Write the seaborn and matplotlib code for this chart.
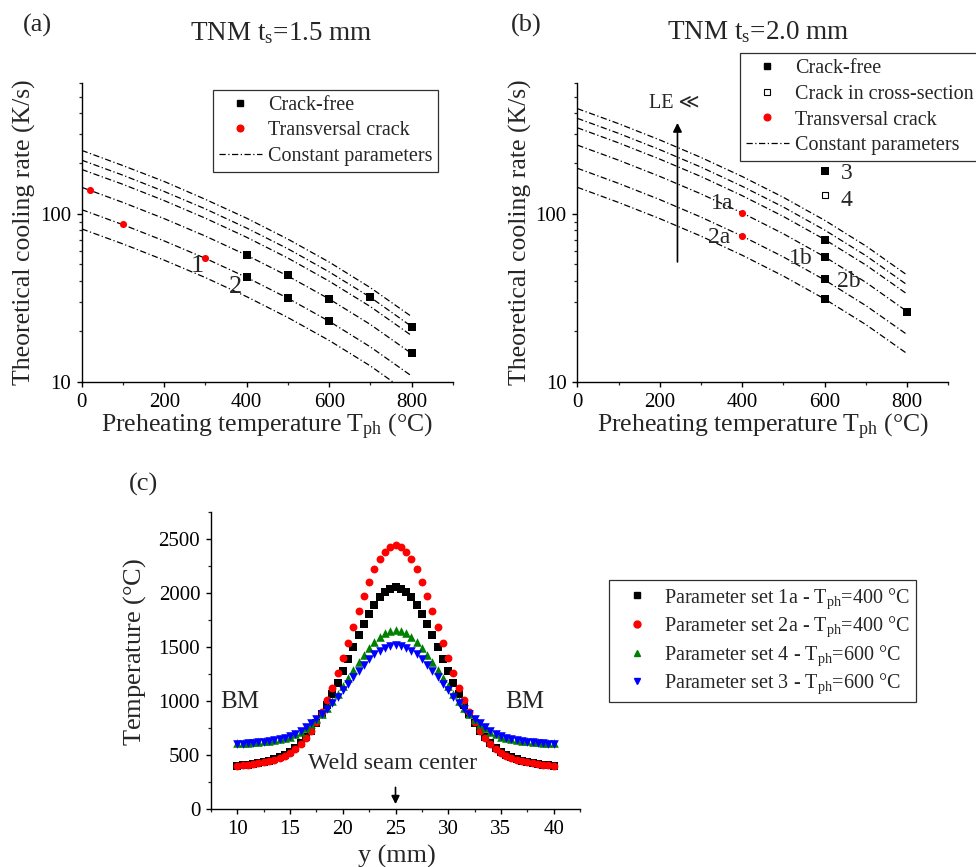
import matplotlib
matplotlib.use("Agg")
import numpy as np
import pandas as pd
import matplotlib.pyplot as plt
from matplotlib.ticker import FixedLocator, LogLocator, NullFormatter, FuncFormatter, MultipleLocator
from matplotlib.lines import Line2D
import seaborn as sns

sns.set_theme(style="ticks")
plt.rcParams["font.family"] = ["Liberation Serif", "DejaVu Serif", "DejaVu Sans"]
plt.rcParams["mathtext.fontset"] = "custom"
plt.rcParams["mathtext.rm"] = "Liberation Serif"
plt.rcParams["mathtext.it"] = "Liberation Serif:italic"
plt.rcParams["mathtext.bf"] = "Liberation Serif:bold"
plt.rcParams["axes.linewidth"] = 1.0

# ---------------- data ----------------
# preheating temperatures at which the constant-parameter curves are tabulated (°C)
t_ph = [0, 100, 200, 300, 400, 500, 600, 700, 800]

# (a) TNM, t_s = 1.5 mm : theoretical cooling rate for constant parameters (K/s)
curves_a = [
    [239, 194, 156, 122, 94.2, 70.7, 51.6, 36.3, 24.4],
    [209, 170, 136, 107, 82.3, 61.9, 45.1, 31.8, 21.3],
    [184, 150, 120, 94.2, 72.5, 54.5, 39.7, 28.0, 18.8],
    [144, 117, 93.7, 73.7, 56.7, 42.6, 31.1, 21.9, 14.7],
    [106, 86.2, 69.0, 54.3, 41.8, 31.4, 22.9, 16.1, 10.8],
    [81.4, 66.2, 53.0, 41.7, 32.1, 24.1, 17.6, 12.4, 8.3],
]
crackfree_a_t = [400, 400, 500, 500, 600, 600, 700, 800, 800]
crackfree_a_rate = [57.1, 41.8, 43.2, 31.5, 31.2, 23.1, 31.8, 21.1, 14.8]
transversal_a_t = [20, 100, 300]
transversal_a_rate = [139, 87, 54.6]

# (b) TNM, t_s = 2.0 mm
curves_b = [
    [424, 345, 276, 217, 167, 125.5, 91.6, 64.4, 43.2],
    [371, 302, 241.5, 190, 146, 109.8, 80.1, 56.4, 37.8],
    [326, 265, 212, 167, 128.4, 96.5, 70.4, 49.6, 33.3],
    [257, 209, 167.3, 131.6, 101.3, 76.1, 55.5, 39.1, 26.2],
    [187, 152, 121.7, 95.7, 73.7, 55.4, 40.4, 28.4, 19.1],
    [144, 117, 93.7, 73.7, 56.7, 42.6, 31.1, 21.9, 14.7],
]
crackfree_b_t = [600, 600, 600, 600, 800]
crackfree_b_rate = [70.2, 55.3, 40.9, 31.2, 26.2]
transversal_b_t = [400, 400]
transversal_b_rate = [101.4, 74.2]
set3_marker = (600, 181)
set4_marker = (600, 129)

# (c) temperature profiles across the weld (y in mm, T in °C)
y_pos = [10.0, 10.5, 11.0, 11.5, 12.0, 12.5, 13.0, 13.5, 14.0, 14.5,
         15.0, 15.5, 16.0, 16.5, 17.0, 17.5, 18.0, 18.5, 19.0, 19.5,
         20.0, 20.5, 21.0, 21.5, 22.0, 22.5, 23.0, 23.5, 24.0, 24.5,
         25.0, 25.5, 26.0, 26.5, 27.0, 27.5, 28.0, 28.5, 29.0, 29.5,
         30.0, 30.5, 31.0, 31.5, 32.0, 32.5, 33.0, 33.5, 34.0, 34.5,
         35.0, 35.5, 36.0, 36.5, 37.0, 37.5, 38.0, 38.5, 39.0, 39.5, 40.0]
temp_1a = [404, 407, 412, 418, 426, 436, 448, 462, 480, 503,
           532, 569, 613, 666, 728, 799, 879, 968, 1065, 1169,
           1278, 1390, 1502, 1611, 1715, 1809, 1891, 1959, 2009, 2040,
           2050, 2040, 2009, 1959, 1891, 1809, 1715, 1611, 1502, 1390,
           1278, 1169, 1065, 968, 879, 799, 728, 666, 613, 569,
           532, 503, 480, 462, 448, 436, 426, 418, 412, 407, 404]
temp_2a = [402, 405, 410, 417, 425, 435, 446, 460, 476, 495,
           520, 555, 600, 656, 724, 805, 899, 1006, 1125, 1255,
           1395, 1540, 1688, 1835, 1975, 2105, 2218, 2312, 2382, 2425,
           2440, 2425, 2382, 2312, 2218, 2105, 1975, 1835, 1688, 1540,
           1395, 1255, 1125, 1006, 899, 805, 724, 656, 600, 555,
           520, 495, 476, 460, 446, 435, 425, 417, 410, 405, 402]
temp_4 = [610, 612, 615, 618, 622, 627, 633, 640, 648, 658,
          671, 692, 718, 750, 787, 831, 881, 937, 999, 1066,
          1137, 1210, 1285, 1358, 1427, 1491, 1547, 1593, 1627, 1648,
          1655, 1648, 1627, 1593, 1547, 1491, 1427, 1358, 1285, 1210,
          1137, 1066, 999, 937, 881, 831, 787, 750, 718, 692,
          671, 658, 648, 640, 633, 627, 622, 618, 615, 612, 610]
temp_3 = [606, 608, 611, 614, 618, 623, 629, 637, 646, 658,
          676, 698, 725, 758, 796, 837, 882, 931, 985, 1042,
          1102, 1162, 1223, 1282, 1337, 1387, 1431, 1467, 1493, 1510,
          1515, 1510, 1493, 1467, 1431, 1387, 1337, 1282, 1223, 1162,
          1102, 1042, 985, 931, 882, 837, 796, 758, 725, 698,
          676, 658, 646, 637, 629, 623, 618, 614, 611, 608, 606]

# ---------------- styling helpers ----------------
W, H = 976, 867
DASHDOT = (0, (5, 2, 1, 2))
TICK_FS = 15
LABEL_FS = 18.5
LEG_FS = 14.5
SERIF = ["Liberation Serif", "DejaVu Sans"]


def fx(px):
    return px / W


def fy(py):
    return 1 - py / H


fig = plt.figure(figsize=(W / 100, H / 100), dpi=100)
ax_a = fig.add_axes([fx(81.7), fy(381.7), fx(453 - 81.7), (381.7 - 83.3) / H])
ax_b = fig.add_axes([fx(577.3), fy(381.7), fx(948.3 - 577.3), (381.7 - 83.3) / H])
ax_c = fig.add_axes([fx(211), fy(809.3), fx(580 - 211), (809.3 - 511.7) / H])


def style_axes(ax):
    sns.despine(ax=ax)
    ax.tick_params(which="major", direction="out", length=3.8, width=1.0,
                   labelsize=TICK_FS, pad=4, colors="black")
    ax.tick_params(which="minor", direction="out", length=2.2, width=0.9)
    for s in ("left", "bottom"):
        ax.spines[s].set_color("black")


def rate_axes(ax):
    ax.set_yscale("log")
    ax.set_xlim(0, 900)
    ax.set_ylim(10, 600)
    ax.xaxis.set_major_locator(FixedLocator([0, 200, 400, 600, 800]))
    ax.xaxis.set_minor_locator(FixedLocator([100, 300, 500, 700, 900]))
    ax.yaxis.set_major_locator(FixedLocator([10, 100]))
    ax.yaxis.set_major_formatter(FuncFormatter(lambda v, p: f"{v:g}"))
    ax.yaxis.set_minor_locator(LogLocator(base=10, subs=np.arange(2, 10)))
    ax.yaxis.set_minor_formatter(NullFormatter())
    style_axes(ax)
    ax.set_xlabel(r"Preheating temperature T$_{\mathrm{ph}}$ ($\degree$C)", fontsize=LABEL_FS)
    ax.set_ylabel("Theoretical cooling rate (K/s)", fontsize=LABEL_FS)
    ax.xaxis.set_label_coords(0.5, -0.102)
    ax.yaxis.set_label_coords(-0.122, 0.5)


def draw_curves(ax, curves):
    for c in curves:
        sns.lineplot(x=t_ph, y=c, ax=ax, color="black", lw=0.9,
                     linestyle=DASHDOT, estimator=None, sort=False, legend=False)


def legend_line():
    return Line2D([], [], color="black", lw=0.9, linestyle=DASHDOT)


leg_kw = dict(fontsize=LEG_FS, frameon=True, fancybox=False, shadow=False,
              framealpha=1, edgecolor="#303030", borderpad=0.28, handlelength=2.15,
              handletextpad=0.3, labelspacing=0.33, borderaxespad=0,
              loc="upper left")

# ---------------- (a) ----------------
rate_axes(ax_a)
draw_curves(ax_a, curves_a)
sns.scatterplot(x=crackfree_a_t, y=crackfree_a_rate, ax=ax_a, marker="s",
                color="black", s=36, linewidth=0, zorder=3, legend=False)
sns.scatterplot(x=transversal_a_t, y=transversal_a_rate, ax=ax_a, marker="o",
                color="red", s=26, linewidth=0, zorder=3, legend=False)
ax_a.text(279, 49.2, "1", fontsize=19, ha="center", va="center")
ax_a.text(374, 36.6, "2", fontsize=19, ha="center", va="center")
h_a = [Line2D([], [], ls="none", marker="s", color="black", markersize=4.8),
       Line2D([], [], ls="none", marker="o", color="red", markersize=4.8),
       legend_line()]
lg = ax_a.legend(h_a, ["Crack-free", "Transversal crack", "Constant parameters"],
                 bbox_to_anchor=(fx(213), fy(90)), bbox_transform=fig.transFigure, **leg_kw)
lg.get_frame().set_linewidth(0.9)

# ---------------- (b) ----------------
rate_axes(ax_b)
draw_curves(ax_b, curves_b)
sns.scatterplot(x=crackfree_b_t, y=crackfree_b_rate, ax=ax_b, marker="s",
                color="black", s=36, linewidth=0, zorder=3, legend=False)
sns.scatterplot(x=transversal_b_t, y=transversal_b_rate, ax=ax_b, marker="o",
                color="red", s=26, linewidth=0, zorder=3, legend=False)
sns.scatterplot(x=[set3_marker[0]], y=[set3_marker[1]], ax=ax_b, marker="s",
                color="black", s=26, linewidth=0, zorder=3, legend=False)
sns.scatterplot(x=[set4_marker[0]], y=[set4_marker[1]], ax=ax_b, marker="s",
                color="white", edgecolor="black", s=22, linewidth=0.8, zorder=3, legend=False)
for txt, xx, yy in [("1a", 351, 115.6), ("2a", 345, 72.7), ("1b", 543, 54.3),
                    ("2b", 658, 39.6), ("3", 653, 173.6), ("4", 652, 119.6)]:
    ax_b.text(xx, yy, txt, fontsize=17, ha="center", va="center")
ax_b.annotate("", xy=(243, 362), xytext=(243, 49.8),
              arrowprops=dict(arrowstyle="-|>", color="black", lw=1.2, mutation_scale=13))
ax_b.text(235, 456, "LE \u226a", fontsize=14.5, ha="center", va="center", family=SERIF)
h_b = [Line2D([], [], ls="none", marker="s", color="black", markersize=4.8),
       Line2D([], [], ls="none", marker="s", markerfacecolor="white",
              markeredgecolor="black", markeredgewidth=0.8, markersize=4.5),
       Line2D([], [], ls="none", marker="o", color="red", markersize=4.8),
       legend_line()]
lg = ax_b.legend(h_b, ["Crack-free", "Crack in cross-section", "Transversal crack",
                       "Constant parameters"],
                 bbox_to_anchor=(fx(740), fy(53.3)), bbox_transform=fig.transFigure, **leg_kw)
lg.get_frame().set_linewidth(0.9)

# ---------------- (c) ----------------
profiles = pd.DataFrame({
    "y": y_pos * 4,
    "T": temp_1a + temp_2a + temp_4 + temp_3,
    "set": (["1a"] * len(y_pos) + ["2a"] * len(y_pos)
            + ["4"] * len(y_pos) + ["3"] * len(y_pos)),
})
series_style = [
    ("1a", "s", "black", 26, r"Parameter set 1a - T$_{\mathrm{ph}}$=400 $\degree$C"),
    ("2a", "o", "red", 32, r"Parameter set 2a - T$_{\mathrm{ph}}$=400 $\degree$C"),
    ("4", "^", "green", 38, r"Parameter set 4 - T$_{\mathrm{ph}}$=600 $\degree$C"),
    ("3", "v", "blue", 38, r"Parameter set 3 - T$_{\mathrm{ph}}$=600 $\degree$C"),
]
h_c, l_c = [], []
for key, mk, col, sz, lab in series_style:
    d = profiles[profiles["set"] == key]
    sns.scatterplot(data=d, x="y", y="T", ax=ax_c, marker=mk, color=col, s=sz,
                    linewidth=0, legend=False, zorder=3)
    h_c.append(Line2D([], [], ls="none", marker=mk, color=col, markersize=5))
    l_c.append(lab)

ax_c.set_xlim(7.5, 42.5)
ax_c.set_ylim(0, 2750)
ax_c.xaxis.set_major_locator(FixedLocator([10, 15, 20, 25, 30, 35, 40]))
ax_c.xaxis.set_minor_locator(MultipleLocator(2.5))
ax_c.yaxis.set_major_locator(MultipleLocator(500))
ax_c.yaxis.set_minor_locator(MultipleLocator(250))
style_axes(ax_c)
ax_c.set_xlabel("y (mm)", fontsize=18.8)
ax_c.set_ylabel(r"Temperature ($\degree$C)", fontsize=19)
ax_c.xaxis.set_label_coords(0.503, -0.12)
ax_c.yaxis.set_label_coords(-0.171, 0.53)
ax_c.text(10.2, 993, "BM", fontsize=18, ha="center", va="center")
ax_c.text(37.3, 993, "BM", fontsize=18, ha="center", va="center")
ax_c.text(24.76, 419, "Weld seam center", fontsize=17.2, ha="center", va="center")
ax_c.annotate("", xy=(25, 22), xytext=(25, 228),
              arrowprops=dict(arrowstyle="-|>", color="black", lw=1.2, mutation_scale=12))
leg_c = dict(leg_kw)
leg_c["labelspacing"] = 0.2
leg_c["borderpad"] = 0.3
lg = ax_c.legend(h_c, l_c, bbox_to_anchor=(fx(609), fy(580)),
                 bbox_transform=fig.transFigure, **leg_c)
lg.get_frame().set_linewidth(0.9)

# ---------------- titles and panel letters ----------------
fig.text(fx(281.7), fy(33), r"TNM t$_{\mathrm{s}}$=1.5 mm", fontsize=19.5, ha="center", va="center")
fig.text(fx(758), fy(32), r"TNM t$_{\mathrm{s}}$=2.0 mm", fontsize=19.5, ha="center", va="center")
fig.text(fx(37), fy(25.8), "(a)", fontsize=19, ha="center", va="center")
fig.text(fx(526.7), fy(25), "(b)", fontsize=19, ha="center", va="center")
fig.text(fx(144), fy(484), "(c)", fontsize=19, ha="center", va="center")

fig.savefig("out.png", dpi=100)
